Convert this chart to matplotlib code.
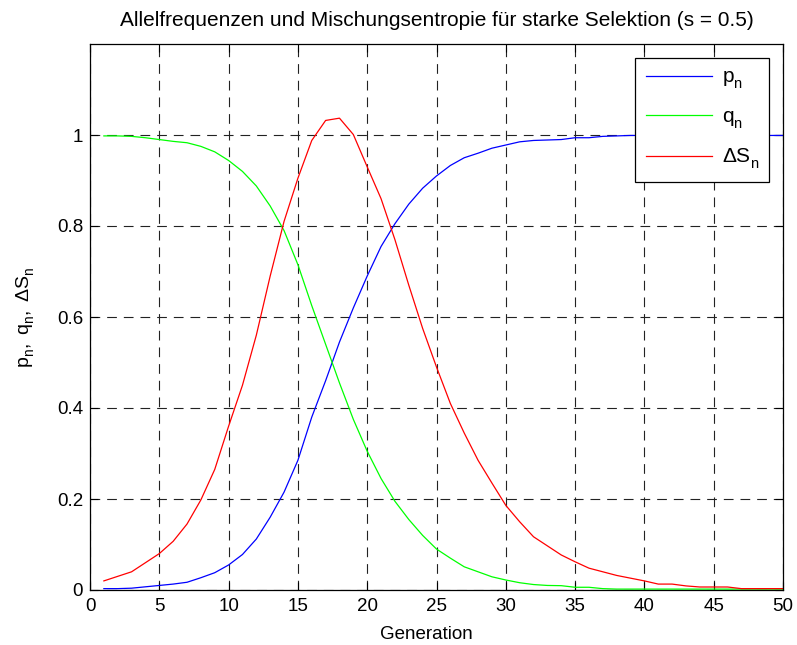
import matplotlib
matplotlib.use("Agg")
import matplotlib.pyplot as plt
import numpy as np

try:
    import matplotlib._mathtext as _mt
    _mt.FontConstantsBase.sub1 = 0.55
    _mt.FontConstantsBase.sub2 = 0.75
except Exception:
    pass

generations = list(range(1, 51))

p_n = [0.003, 0.003, 0.004, 0.007, 0.010, 0.013, 0.017, 0.027, 0.038, 0.055,
       0.078, 0.112, 0.160, 0.215, 0.285, 0.380, 0.460, 0.545, 0.620, 0.690,
       0.755, 0.805, 0.848, 0.883, 0.910, 0.933, 0.950, 0.960, 0.971, 0.978,
       0.985, 0.988, 0.989, 0.990, 0.994, 0.994, 0.997, 0.998, 0.999, 0.999,
       0.999, 0.999, 0.999, 0.999, 0.999, 0.999, 0.999, 0.999, 0.999, 0.999]

q_n = [0.998, 0.998, 0.997, 0.994, 0.990, 0.986, 0.983, 0.975, 0.963, 0.944,
       0.920, 0.888, 0.844, 0.790, 0.715, 0.625, 0.540, 0.455, 0.375, 0.305,
       0.245, 0.195, 0.155, 0.120, 0.090, 0.070, 0.051, 0.040, 0.029, 0.022,
       0.016, 0.012, 0.010, 0.0095, 0.006, 0.006, 0.003, 0.002, 0.002, 0.002,
       0.002, 0.002, 0.002, 0.002, 0.002, 0.002, 0.002, 0.002, 0.002, 0.002]

dS_n = [0.020, 0.030, 0.040, 0.060, 0.080, 0.107, 0.145, 0.198, 0.265, 0.360,
        0.450, 0.560, 0.690, 0.810, 0.905, 0.988, 1.032, 1.037, 1.001, 0.930,
        0.860, 0.770, 0.670, 0.575, 0.490, 0.410, 0.345, 0.285, 0.235, 0.186,
        0.150, 0.117, 0.097, 0.077, 0.062, 0.048, 0.040, 0.032, 0.026, 0.020,
        0.013, 0.013, 0.009, 0.0066, 0.0066, 0.0066, 0.003, 0.003, 0.003, 0.003]

x_ticks = [0, 5, 10, 15, 20, 25, 30, 35, 40, 45, 50]
y_ticks = [0, 0.2, 0.4, 0.6, 0.8, 1.0]
y_ticklabels = ["0", "0.2", "0.4", "0.6", "0.8", "1"]

plt.rcParams['font.family'] = ['Liberation Sans', 'DejaVu Sans']
plt.rcParams['mathtext.fontset'] = 'custom'
plt.rcParams['mathtext.rm'] = 'Liberation Sans'
plt.rcParams['mathtext.it'] = 'Liberation Sans'
plt.rcParams['lines.scale_dashes'] = False

fig = plt.figure(figsize=(7.97, 6.45), dpi=100)
ax = fig.add_axes([90 / 797, 1 - 590 / 645, (783 - 90) / 797, (590 - 44) / 645])

ax.plot(generations, p_n, color='#0000ff', lw=0.9, label=r'$\mathregular{p_n}$')
ax.plot(generations, q_n, color='#00ff00', lw=0.9, label=r'$\mathregular{q_n}$')
ax.plot(generations, dS_n, color='#ff0000', lw=0.9, label=r'$\mathregular{\Delta S_n}$')

ax.set_xlim(0, 50)
ax.set_ylim(0, 1.2)
ax.set_xticks(x_ticks)
ax.set_yticks(y_ticks)
ax.set_yticklabels(y_ticklabels)
ax.tick_params(direction='in', top=True, right=True, labelsize=13.5, length=6, width=0.8)
ax.tick_params(axis='x', pad=6)
ax.tick_params(axis='y', pad=5)
for s in ax.spines.values():
    s.set_linewidth(0.9)

ax.grid(True, color='#222222', linestyle=(0, (7, 5)), linewidth=0.8)

ax.set_title('Allelfrequenzen und Mischungsentropie für starke Selektion (s = 0.5)',
             fontsize=15, pad=13)
ax.set_xlabel('Generation', fontsize=13.5)
ax.xaxis.set_label_coords(0.486, -0.081)
ax.xaxis.label.set_va('center')
ax.set_ylabel(r'$\mathregular{p_n,\ q_n,\ \Delta S_n}$', fontsize=14, labelpad=14)

leg = ax.legend(loc='upper right', fontsize=15, handlelength=3.2, labelspacing=0.8,
                borderaxespad=0.65, fancybox=False, edgecolor='black', framealpha=1,
                handletextpad=0.45, borderpad=0.5)
leg.get_frame().set_linewidth(0.9)

fig.savefig('out.png', dpi=100)
